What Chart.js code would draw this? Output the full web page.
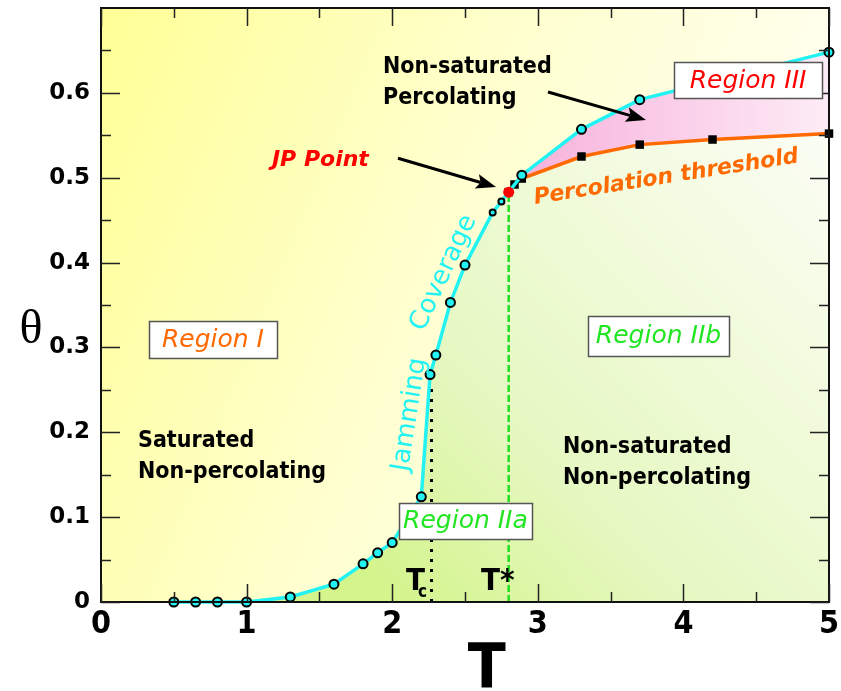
<!DOCTYPE html>
<html>
<head>
<meta charset="utf-8">
<script src="https://cdn.jsdelivr.net/npm/chart.js@4/dist/chart.umd.min.js"></script>
<style>
  html, body { margin: 0; padding: 0; background: #ffffff; }
  #wrap { width: 841px; height: 691px; }
</style>
</head>
<body>
<div id="wrap"><canvas id="c" width="841" height="691"></canvas></div>
<script>
// ---------------- data ----------------
const JAM_T     = [0.5, 0.65, 0.8, 1.0, 1.3, 1.6, 1.8, 1.9, 2.0, 2.2, 2.26, 2.3, 2.4, 2.5, 2.69, 2.75, 2.8, 2.89, 3.3, 3.7, 5.0];
const JAM_THETA = [0, 0, 0, 0, 0.006, 0.021, 0.045, 0.058, 0.07, 0.124, 0.268, 0.291, 0.353, 0.397, 0.459, 0.472, 0.483, 0.503, 0.557, 0.592, 0.648];
const PERC_T     = [2.8, 2.84, 2.89, 3.3, 3.7, 4.2, 5.0];
const PERC_THETA = [0.483, 0.492, 0.499, 0.525, 0.539, 0.545, 0.552];
const JP_T = [2.8];
const JP_THETA = [0.483];
const TC_T = [2.27, 2.27];
const TC_THETA = [0, 0.256];
const TSTAR_T = [2.8, 2.8];
const TSTAR_THETA = [0, 0.483];
const X_TICKS = [0, 1, 2, 3, 4, 5];
const X_MINOR = [0.5, 1.5, 2.5, 3.5, 4.5];
const Y_TICKS = [0, 0.1, 0.2, 0.3, 0.4, 0.5, 0.6];
const Y_MINOR = [0.05, 0.15, 0.25, 0.35, 0.45, 0.55, 0.65];
const X_TITLE = 'T';
const Y_TITLE = 'θ';

// ---------------- derived point lists ----------------
const pts = (xs, ys) => xs.map((x, i) => ({x: x, y: ys[i]}));
const jamPts = pts(JAM_T, JAM_THETA);
const percPts = pts(PERC_T, PERC_THETA);
const jpX = JP_T[0];
const lowerPts = jamPts.filter(p => p.x <= jpX).concat(percPts.filter(p => p.x > jpX));
const upperPts = jamPts.filter(p => p.x >= jpX);

// ---------------- styles ----------------
const CYAN = '#22f2f2';
const ORANGE = '#ff6a00';
const GREEN_TXT = '#22e622';
const RED = '#ff0000';
const SANS = "'DejaVu Sans Condensed', 'DejaVu Sans', sans-serif";
const SANSW = "'DejaVu Sans', sans-serif";
const NARROW = "'Liberation Sans Narrow', 'DejaVu Sans Condensed', sans-serif";

function greenGrad(ctx) {
  const ch = ctx.chart, a = ch.chartArea;
  if (!a) return '#e4f8bc';
  const xs = ch.scales.x, ys = ch.scales.y;
  const g = ch.ctx.createLinearGradient(xs.getPixelForValue(2.0), a.bottom, a.right, ys.getPixelForValue(0.5));
  g.addColorStop(0, '#d4f48c');
  g.addColorStop(0.35, '#e6f8c2');
  g.addColorStop(1, '#fafdf1');
  return g;
}
function pinkGrad(ctx) {
  const ch = ctx.chart, a = ch.chartArea;
  if (!a) return '#f9c4e4';
  const xs = ch.scales.x;
  const g = ch.ctx.createLinearGradient(xs.getPixelForValue(2.85), 0, a.right, 0);
  g.addColorStop(0, '#f6b0da');
  g.addColorStop(0.4, '#fac8e6');
  g.addColorStop(1, '#fdecf6');
  return g;
}

// annotation layout (data coordinates)
const TEXTS = [
  {t: 'Non-saturated',   x: 1.937, y: 0.623, font: 'bold 23px ' + SANS, color: '#000'},
  {t: 'Percolating',     x: 1.937, y: 0.587, font: 'bold 23px ' + SANS, color: '#000'},
  {t: 'Saturated',       x: 0.254, y: 0.183, font: 'bold 23px ' + SANS, color: '#000'},
  {t: 'Non-percolating', x: 0.254, y: 0.146, font: 'bold 23px ' + SANS, color: '#000'},
  {t: 'Non-saturated',   x: 3.173, y: 0.176, font: 'bold 23px ' + SANS, color: '#000'},
  {t: 'Non-percolating', x: 3.173, y: 0.139, font: 'bold 23px ' + SANS, color: '#000'},
  {t: 'JP Point',        x: 1.174, y: 0.514, font: 'bold italic 22px ' + SANSW, color: RED},
];
const BOXES = [
  {t: 'Region I',   x: 0.769, y: 0.309, w: 128, h: 37, color: ORANGE},
  {t: 'Region IIb', x: 3.829, y: 0.3135, w: 141, h: 40, color: GREEN_TXT},
  {t: 'Region IIa', x: 2.503, y: 0.0955, w: 133, h: 36, color: GREEN_TXT},
  {t: 'Region III', x: 4.444, y: 0.615, w: 148, h: 36, color: RED},
];
const ROTATED = [
  {t: 'Percolation threshold', x: 2.981, y: 0.469, ang: -9, font: 'bold italic 22px ' + SANSW, color: ORANGE},
  {t: 'Jamming',  x: 2.105, y: 0.153, ang: -81, font: '26px ' + SANSW, color: CYAN},
  {t: 'Coverage', x: 2.215, y: 0.318, ang: -65, font: '26px ' + SANSW, color: CYAN},
];
const ARROWS = [
  {x0: 2.040, y0: 0.523, x1: 2.713, y1: 0.489},
  {x0: 3.070, y0: 0.601, x1: 3.743, y1: 0.568},
];

const bgPlugin = {
  id: 'bg',
  beforeDatasetsDraw(chart) {
    const {ctx, chartArea: a} = chart;
    ctx.save();
    const g = ctx.createLinearGradient(a.left, a.top, a.right, a.top + (a.bottom - a.top) * 0.5);
    g.addColorStop(0, '#ffff96');
    g.addColorStop(0.5, '#ffffcf');
    g.addColorStop(1, '#fffff6');
    ctx.fillStyle = g;
    ctx.fillRect(a.left, a.top, a.right - a.left, a.bottom - a.top);
    ctx.restore();
  }
};

function arrow(ctx, x0, y0, x1, y1) {
  const ang = Math.atan2(y1 - y0, x1 - x0);
  const L = 20, W = 7.5;
  const bx = x1 - L * Math.cos(ang), by = y1 - L * Math.sin(ang);
  ctx.beginPath();
  ctx.moveTo(x0, y0); ctx.lineTo(bx + 4 * Math.cos(ang), by + 4 * Math.sin(ang));
  ctx.lineWidth = 3; ctx.strokeStyle = '#000'; ctx.stroke();
  ctx.beginPath();
  ctx.moveTo(x1, y1);
  ctx.lineTo(bx - W * Math.sin(ang), by + W * Math.cos(ang));
  ctx.lineTo(bx + 4 * Math.cos(ang), by + 4 * Math.sin(ang));
  ctx.lineTo(bx + W * Math.sin(ang), by - W * Math.cos(ang));
  ctx.closePath();
  ctx.fillStyle = '#000'; ctx.fill();
}

const decoPlugin = {
  id: 'deco',
  afterDatasetsDraw(chart) {
    const {ctx, chartArea: a, scales: {x: xs, y: ys}} = chart;
    const px = v => xs.getPixelForValue(v), py = v => ys.getPixelForValue(v);
    ctx.save();
    // frame
    ctx.strokeStyle = '#111'; ctx.lineWidth = 2;
    ctx.strokeRect(a.left, a.top, a.right - a.left, a.bottom - a.top);
    // inside ticks
    ctx.lineWidth = 1.5; ctx.strokeStyle = '#222';
    ctx.beginPath();
    const yt = (v, len) => { const y = Math.round(py(v)) + 0.5; ctx.moveTo(a.left, y); ctx.lineTo(a.left + len, y); ctx.moveTo(a.right, y); ctx.lineTo(a.right - len, y); };
    const xt = (v, len) => { const x = Math.round(px(v)) + 0.5; ctx.moveTo(x, a.bottom); ctx.lineTo(x, a.bottom - len); ctx.moveTo(x, a.top); ctx.lineTo(x, a.top + len); };
    Y_TICKS.forEach(v => yt(v, 19)); Y_MINOR.forEach(v => yt(v, 10));
    X_TICKS.forEach(v => xt(v, 18)); X_MINOR.forEach(v => xt(v, 10));
    ctx.stroke();
    // arrows
    ARROWS.forEach(r => arrow(ctx, px(r.x0), py(r.y0), px(r.x1), py(r.y1)));
    // plain texts
    ctx.textBaseline = 'alphabetic'; ctx.textAlign = 'left';
    TEXTS.forEach(t => { ctx.font = t.font; ctx.fillStyle = t.color; ctx.fillText(t.t, px(t.x), py(t.y)); });
    // rotated texts
    ROTATED.forEach(t => {
      ctx.save(); ctx.translate(px(t.x), py(t.y)); ctx.rotate(t.ang * Math.PI / 180);
      ctx.font = t.font; ctx.fillStyle = t.color; ctx.fillText(t.t, 0, 0); ctx.restore();
    });
    // boxed region labels
    BOXES.forEach(b => {
      const cx = px(b.x), cy = py(b.y);
      ctx.fillStyle = '#fff'; ctx.fillRect(cx - b.w / 2, cy - b.h / 2, b.w, b.h);
      ctx.lineWidth = 1.5; ctx.strokeStyle = '#555';
      ctx.strokeRect(Math.round(cx - b.w / 2) + 0.5, Math.round(cy - b.h / 2) + 0.5, b.w, b.h);
      ctx.font = 'italic 25px ' + SANSW; ctx.fillStyle = b.color;
      ctx.textAlign = 'center'; ctx.textBaseline = 'middle';
      ctx.fillText(b.t, cx, cy + 1);
      ctx.textAlign = 'left'; ctx.textBaseline = 'alphabetic';
    });
    // Tc and T* labels
    ctx.fillStyle = '#000';
    ctx.font = 'bold 31px ' + NARROW;
    ctx.fillText('T', px(2.095), py(0.0141));
    ctx.fillText('T*', px(2.61), py(0.0141));
    ctx.font = 'bold 17px ' + NARROW;
    ctx.fillText('c', px(2.177), py(0.006));
    // axis titles
    ctx.font = 'bold 62px ' + NARROW; ctx.textAlign = 'center';
    ctx.fillText(X_TITLE, px(2.65), 688);
    ctx.font = '48px "Liberation Serif", serif';
    ctx.textBaseline = 'middle';
    ctx.fillText(Y_TITLE, 31, py(0.32));
    ctx.restore();
  }
};

const chart = new Chart(document.getElementById('c'), {
  type: 'line',
  data: {
    datasets: [
      { label: 'JP Point', data: pts(JP_T, JP_THETA), showLine: false, pointRadius: 5.5,
        pointBackgroundColor: RED, pointBorderColor: RED, pointBorderWidth: 0, order: 0, clip: false },
      { label: 'Jamming Coverage', data: jamPts, borderColor: CYAN, borderWidth: 3.5, tension: 0,
        pointRadius: c => (c.raw && c.raw.x === jpX) ? 0 : ((c.raw && c.raw.x > 2.6 && c.raw.x < 2.8) ? 3 : 4.5),
        pointBackgroundColor: CYAN, pointBorderColor: '#000', pointBorderWidth: 2, order: 1, clip: false, fill: false },
      { label: 'Percolation threshold', data: percPts, borderColor: ORANGE, borderWidth: 3.5, tension: 0,
        pointStyle: 'rect', pointRadius: 6, pointBackgroundColor: '#000', pointBorderColor: '#000', pointBorderWidth: 0,
        order: 2, clip: false, fill: false },
      { label: 'Tc', data: pts(TC_T, TC_THETA), borderColor: '#000', borderWidth: 3, borderDash: [3, 7],
        pointRadius: 0, order: 3, fill: false },
      { label: 'T*', data: pts(TSTAR_T, TSTAR_THETA), borderColor: '#1fe01f', borderWidth: 2.5, borderDash: [7, 3],
        pointRadius: 0, order: 3, fill: false },
      { label: 'lower', data: lowerPts, borderWidth: 0, borderColor: 'rgba(0,0,0,0)', pointRadius: 0,
        backgroundColor: greenGrad, fill: 'origin', order: 10 },
      { label: 'upper', data: upperPts, borderWidth: 0, borderColor: 'rgba(0,0,0,0)', pointRadius: 0,
        backgroundColor: pinkGrad, fill: {target: 2}, order: 9 }
    ]
  },
  options: {
    responsive: false,
    devicePixelRatio: 1,
    animation: false,
    events: [],
    layout: { padding: { top: 8, right: 12, left: 0, bottom: 0 } },
    plugins: { legend: { display: false }, tooltip: { enabled: false } },
    scales: {
      x: {
        type: 'linear', min: 0, max: 5,
        grid: { display: false, drawTicks: false }, border: { display: false },
        afterBuildTicks: s => { s.ticks = X_TICKS.map(v => ({value: v})); },
        afterFit: s => { s.height = 89; s.paddingLeft = 0; s.paddingRight = 0; },
        ticks: { color: '#000', padding: 3, maxRotation: 0, autoSkip: false,
                 font: { family: NARROW, size: 32, weight: 'bold' },
                 callback: v => String(v) }
      },
      y: {
        type: 'linear', min: 0, max: 0.7,
        grid: { display: false, drawTicks: false }, border: { display: false },
        afterBuildTicks: s => { s.ticks = Y_TICKS.map(v => ({value: v})); },
        afterFit: s => { s.width = 101; s.paddingTop = 0; s.paddingBottom = 0; },
        ticks: { color: '#000', padding: 11, autoSkip: false,
                 font: { family: SANSW, size: 23, weight: 'bold' },
                 callback: v => (v === 0 ? '0' : v.toFixed(1)) }
      }
    }
  },
  plugins: [bgPlugin, decoPlugin]
});
</script>
</body>
</html>
